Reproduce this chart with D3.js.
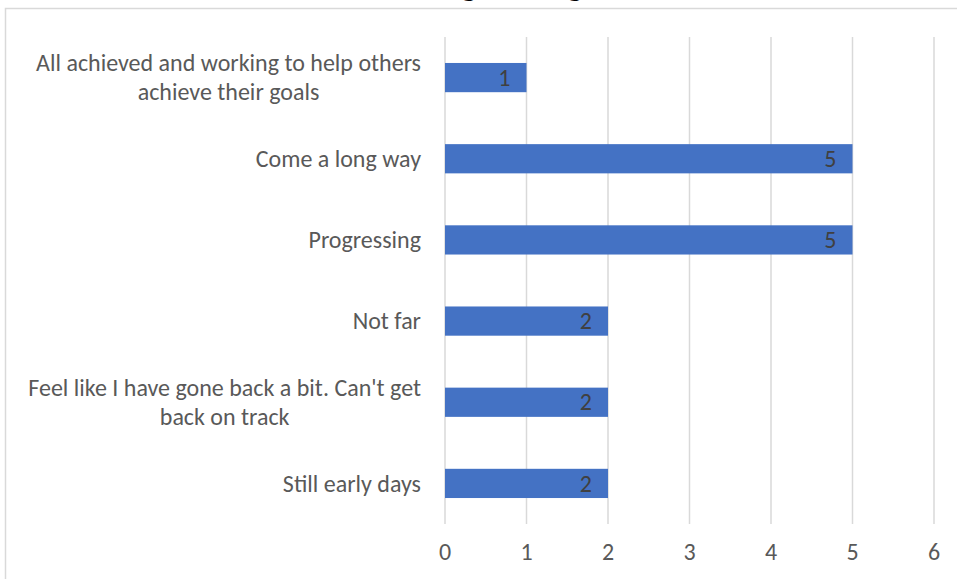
<!DOCTYPE html>
<html><head><meta charset="utf-8">
<script src="https://cdn.jsdelivr.net/npm/d3@7"></script>
<style>body{margin:0;background:#fff;overflow:hidden}</style>
</head><body>
<svg id="c" width="957" height="579"></svg>
<script>
const titleText = "Progressing";
const categories = [
  "All achieved and working to help others achieve their goals",
  "Come a long way",
  "Progressing",
  "Not far",
  "Feel like I have gone back a bit. Can't get back on track",
  "Still early days"
];
const categoryLines = [
  ["All achieved and working to help others", "achieve their goals"],
  ["Come a long way"],
  ["Progressing"],
  ["Not far"],
  ["Feel like I have gone back a bit. Can't get", "back on track"],
  ["Still early days"]
];
const values = [1, 5, 5, 2, 2, 2];
const xTicks = [0, 1, 2, 3, 4, 5, 6];

const FONT = "Carlito, 'Open Sans', Lato, sans-serif";
const FS = 24;
const svg = d3.select("#c");

// chart border (cropped chart area)
svg.append("rect").attr("x", 5.5).attr("y", 8.5).attr("width", 1000).attr("height", 1000)
  .attr("fill", "#fff").attr("stroke", "#d9d9d9").attr("stroke-width", 1.5);

const x = d3.scaleLinear().domain([0, 6]).range([445, 934]);
const y = d3.scaleBand().domain(categories).range([37, 524]).paddingInner(0.64).paddingOuter(0.32);

// gridlines
svg.append("g").selectAll("line").data(xTicks).join("line")
  .attr("x1", d => x(d)).attr("x2", d => x(d)).attr("y1", 37).attr("y2", 524)
  .attr("stroke", "#d9d9d9").attr("stroke-width", 1.5);

// bars
svg.append("g").selectAll("rect").data(values).join("rect")
  .attr("x", x(0)).attr("y", (d, i) => y(categories[i]))
  .attr("width", d => x(d) - x(0)).attr("height", y.bandwidth())
  .attr("fill", "#4472c4");

// value labels
svg.append("g").selectAll("text").data(values).join("text")
  .attr("x", d => x(d) - 16).attr("y", (d, i) => y(categories[i]) + y.bandwidth() / 2)
  .attr("dy", "0.34em").attr("text-anchor", "end")
  .attr("font-family", FONT).attr("font-size", FS).attr("fill", "#404040")
  .text(d => d);

// category labels (block right-aligned, lines centred)
const cl = svg.append("g");
categories.forEach((c, i) => {
  const lines = categoryLines[i];
  const cy = y(c) + y.bandwidth() / 2;
  const lh = 29;
  const g = cl.append("g");
  const ts = lines.map((ln, j) => g.append("text")
      .attr("y", cy + (j - (lines.length - 1) / 2) * lh)
      .attr("dy", "0.34em").attr("text-anchor", "middle")
      .attr("font-family", FONT).attr("font-size", FS).attr("fill", "#595959")
      .text(ln));
  const w = d3.max(ts, t => t.node().getComputedTextLength());
  ts.forEach(t => t.attr("x", 421 - w / 2));
});

// x axis tick labels
svg.append("g").selectAll("text").data(xTicks).join("text")
  .attr("x", d => x(d)).attr("y", 552).attr("dy", "0.34em").attr("text-anchor", "middle")
  .attr("font-family", FONT).attr("font-size", FS).attr("fill", "#595959")
  .text(d => d);

// title (mostly cut off at top, as in the reference)
const t = svg.append("text").attr("x", 0).attr("y", -5)
  .attr("font-family", FONT).attr("font-size", 30).attr("font-weight", "bold").attr("fill", "#000")
  .text(titleText);
try {
  const e1 = t.node().getExtentOfChar(3);
  const e2 = t.node().getExtentOfChar(10);
  const c1 = e1.x + e1.width / 2, c2 = e2.x + e2.width / 2;
  const s = (575 - 469) / (c2 - c1);
  t.attr("font-size", 30 * s);
  const f1 = t.node().getExtentOfChar(3);
  t.attr("x", 469 - (f1.x + f1.width / 2));
} catch (e) {}
</script>
</body></html>
